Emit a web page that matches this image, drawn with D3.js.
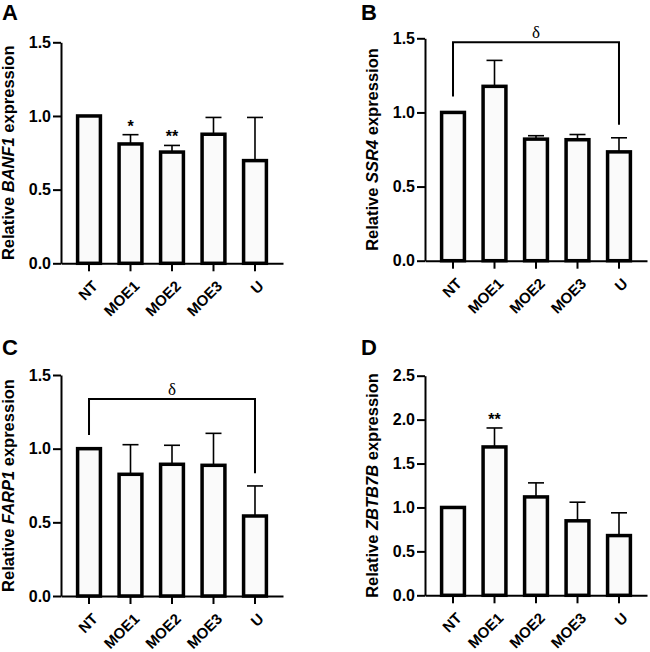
<!DOCTYPE html>
<html><head><meta charset="utf-8">
<script src="https://cdn.jsdelivr.net/npm/d3@7"></script>
<style>
html,body{margin:0;padding:0;background:#fff;}
svg{display:block;font-family:"Liberation Sans",Arial,sans-serif;}
</style></head>
<body>
<svg id="chart" width="650" height="652"></svg>
<script>
// ---- data ----
const categories = ["NT", "MOE1", "MOE2", "MOE3", "U"];

const banf1Mean = [1.0, 0.81, 0.755, 0.876, 0.697];
const banf1Err  = [0, 0.063, 0.045, 0.114, 0.293];
const banf1Stars = ["", "*", "**", "", ""];

const ssr4Mean = [1.0, 1.176, 0.82, 0.816, 0.734];
const ssr4Err  = [0, 0.175, 0.023, 0.035, 0.095];
const ssr4Stars = ["", "", "", "", ""];

const farp1Mean = [1.0, 0.826, 0.894, 0.887, 0.543];
const farp1Err  = [0, 0.201, 0.129, 0.217, 0.204];
const farp1Stars = ["", "", "", "", ""];

const zbtb7bMean = [1.0, 1.689, 1.12, 0.848, 0.68];
const zbtb7bErr  = [0, 0.216, 0.16, 0.212, 0.259];
const zbtb7bStars = ["", "**", "", "", ""];

const ticks15 = [0, 0.5, 1.0, 1.5];
const ticks25 = [0, 0.5, 1.0, 1.5, 2.0, 2.5];

const ssr4Bracket  = {from: "NT", to: "U", level: 1.473, leftEnd: 1.108, rightEnd: 0.917, label: "δ"};
const farp1Bracket = {from: "NT", to: "U", level: 1.337, leftEnd: 1.093, rightEnd: 0.833, label: "δ"};

// ---- drawing ----
const svg = d3.select("#chart");

function panel(cfg) {
  const g = svg.append("g");
  const x = d3.scaleBand().domain(categories)
    .range([cfg.x0, cfg.x1]).paddingInner(0.45).paddingOuter(0.4);
  const y = d3.scaleLinear().domain([0, cfg.ymax]).range([cfg.y0, cfg.yTop]);

  // panel letter
  g.append("text").attr("x", cfg.letterX).attr("y", cfg.letterY)
    .attr("font-size", 22).attr("font-weight", "bold").text(cfg.letter);

  // y axis
  const ya = g.append("g").attr("transform", `translate(${cfg.x0},0)`)
    .call(d3.axisLeft(y).tickValues(cfg.ticks).tickFormat(d3.format(".1f"))
      .tickSizeInner(8).tickSizeOuter(0).tickPadding(2));
  ya.select(".domain").attr("stroke-width", 2);
  ya.selectAll(".tick line").attr("stroke-width", 2);
  ya.selectAll(".tick text").attr("font-size", 16).attr("font-weight", "bold")
    .attr("font-family", "Liberation Sans, Arial, sans-serif").attr("fill", "#000");

  // x axis
  const xa = g.append("g").attr("transform", `translate(0,${cfg.y0})`)
    .call(d3.axisBottom(x).tickSizeInner(8).tickSizeOuter(0));
  xa.select(".domain").attr("stroke-width", 2);
  xa.selectAll(".tick line").attr("stroke-width", 2);
  xa.selectAll(".tick text")
    .attr("font-size", 15).attr("font-weight", "bold")
    .attr("font-family", "Liberation Sans, Arial, sans-serif").attr("fill", "#000")
    .attr("text-anchor", "end")
    .attr("y", 0).attr("dy", 0)
    .attr("transform", "translate(2,16) rotate(-45) translate(0,11)");

  // y label
  const lbl = g.append("text")
    .attr("transform", `translate(${cfg.x0 - 47},${(cfg.y0 + cfg.yTop) / 2}) rotate(-90)`)
    .attr("text-anchor", "middle").attr("font-size", 16.5).attr("font-weight", "bold");
  lbl.append("tspan").text("Relative ");
  lbl.append("tspan").attr("font-style", "italic").text(cfg.gene);
  lbl.append("tspan").text(" expression");

  const data = categories.map((c, i) => ({c, m: cfg.mean[i], e: cfg.err[i], s: cfg.stars[i]}));

  // error bars (upper)
  const capW = 16;
  const eb = g.append("g").attr("stroke", "#000").attr("stroke-width", 1.6);
  data.filter(d => d.e > 0).forEach(d => {
    const cx = x(d.c) + x.bandwidth() / 2;
    eb.append("line").attr("x1", cx).attr("x2", cx).attr("y1", y(d.m)).attr("y2", y(d.m + d.e));
    eb.append("line").attr("x1", cx - capW / 2).attr("x2", cx + capW / 2)
      .attr("y1", y(d.m + d.e)).attr("y2", y(d.m + d.e));
  });

  // bars
  g.append("g").selectAll("rect").data(data).join("rect")
    .attr("x", d => x(d.c)).attr("width", x.bandwidth())
    .attr("y", d => y(d.m)).attr("height", d => y(0) - y(d.m))
    .attr("fill", "#fafafa").attr("stroke", "#000").attr("stroke-width", 3.5);

  // stars
  g.append("g").selectAll("text").data(data.filter(d => d.s)).join("text")
    .attr("x", d => x(d.c) + x.bandwidth() / 2)
    .attr("y", d => y(d.m + d.e) - 3)
    .attr("text-anchor", "middle").attr("font-size", 16).attr("font-weight", "bold")
    .text(d => d.s);

  // bracket
  if (cfg.bracket) {
    const b = cfg.bracket;
    const xl = x(b.from) + x.bandwidth() / 2, xr = x(b.to) + x.bandwidth() / 2;
    g.append("path")
      .attr("d", `M${xl},${y(b.leftEnd)}V${y(b.level)}H${xr}V${y(b.rightEnd)}`)
      .attr("fill", "none").attr("stroke", "#000").attr("stroke-width", 2);
    g.append("text").attr("x", (xl + xr) / 2).attr("y", y(b.level) - 4)
      .attr("text-anchor", "middle").attr("font-size", 17)
      .attr("font-family", "Liberation Serif, Times New Roman, serif").text(b.label);
  }
}

panel({letter: "A", letterX: 2, letterY: 20, gene: "BANF1", mean: banf1Mean, err: banf1Err, stars: banf1Stars,
  x0: 61, x1: 283, y0: 263.3, yTop: 42.3, ymax: 1.5, ticks: ticks15});
panel({letter: "B", letterX: 361, letterY: 20, gene: "SSR4", mean: ssr4Mean, err: ssr4Err, stars: ssr4Stars,
  x0: 425, x1: 647, y0: 260.7, yTop: 38.3, ymax: 1.5, ticks: ticks15, bracket: ssr4Bracket});
panel({letter: "C", letterX: 2, letterY: 355, gene: "FARP1", mean: farp1Mean, err: farp1Err, stars: farp1Stars,
  x0: 61, x1: 283, y0: 596, yTop: 375, ymax: 1.5, ticks: ticks15, bracket: farp1Bracket});
panel({letter: "D", letterX: 361, letterY: 355, gene: "ZBTB7B", mean: zbtb7bMean, err: zbtb7bErr, stars: zbtb7bStars,
  x0: 425, x1: 647, y0: 595.3, yTop: 375.7, ymax: 2.5, ticks: ticks25});
</script>
</body></html>
